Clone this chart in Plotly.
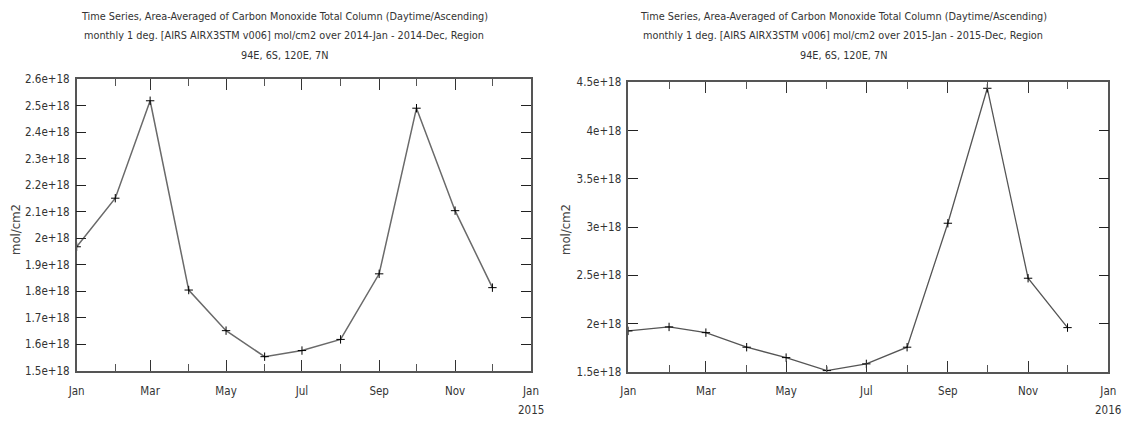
import plotly.graph_objects as go

months_2014 = ["2014-01-01", "2014-02-01", "2014-03-01", "2014-04-01", "2014-05-01", "2014-06-01",
               "2014-07-01", "2014-08-01", "2014-09-01", "2014-10-01", "2014-11-01", "2014-12-01"]
co_2014 = [1.968e18, 2.151e18, 2.518e18, 1.805e18, 1.652e18, 1.554e18,
           1.577e18, 1.619e18, 1.866e18, 2.490e18, 2.104e18, 1.814e18]

months_2015 = ["2015-01-01", "2015-02-01", "2015-03-01", "2015-04-01", "2015-05-01", "2015-06-01",
               "2015-07-01", "2015-08-01", "2015-09-01", "2015-10-01", "2015-11-01", "2015-12-01"]
co_2015 = [1.923e18, 1.964e18, 1.905e18, 1.754e18, 1.646e18, 1.511e18,
           1.581e18, 1.754e18, 3.039e18, 4.438e18, 2.469e18, 1.957e18]

x_ticks_2014 = ["2014-01-01", "2014-03-01", "2014-05-01", "2014-07-01", "2014-09-01", "2014-11-01", "2015-01-01"]
x_ticks_2015 = ["2015-01-01", "2015-03-01", "2015-05-01", "2015-07-01", "2015-09-01", "2015-11-01", "2016-01-01"]
x_text = ["Jan", "Mar", "May", "Jul", "Sep", "Nov", "Jan"]
year_labels = [("2015-01-01", "2015"), ("2016-01-01", "2016")]

y_ticks_left = [1.5e18, 1.6e18, 1.7e18, 1.8e18, 1.9e18, 2.0e18, 2.1e18, 2.2e18, 2.3e18, 2.4e18, 2.5e18, 2.6e18]
y_text_left = ["1.5e+18", "1.6e+18", "1.7e+18", "1.8e+18", "1.9e+18", "2e+18",
               "2.1e+18", "2.2e+18", "2.3e+18", "2.4e+18", "2.5e+18", "2.6e+18"]
y_ticks_right = [1.5e18, 2.0e18, 2.5e18, 3.0e18, 3.5e18, 4.0e18, 4.5e18]
y_text_right = ["1.5e+18", "2e+18", "2.5e+18", "3e+18", "3.5e+18", "4e+18", "4.5e+18"]

title_lines_2014 = ["Time Series, Area-Averaged of Carbon Monoxide Total Column (Daytime/Ascending)",
                    "monthly 1 deg. [AIRS AIRX3STM v006] mol/cm2 over 2014-Jan - 2014-Dec, Region",
                    "94E, 6S, 120E, 7N"]
title_lines_2015 = ["Time Series, Area-Averaged of Carbon Monoxide Total Column (Daytime/Ascending)",
                    "monthly 1 deg. [AIRS AIRX3STM v006] mol/cm2 over 2015-Jan - 2015-Dec, Region",
                    "94E, 6S, 120E, 7N"]
y_label = "mol/cm2"

W, H = 1129, 421
FONT = "DejaVu Sans Condensed, DejaVu Sans, sans-serif"
TXT = "#333333"

fig = go.Figure()
fig.add_trace(go.Scatter(x=months_2014, y=co_2014, mode="lines+markers",
                         line=dict(color="#6a6a6a", width=1.5),
                         marker=dict(symbol="cross-thin", size=6, line=dict(color="black", width=1)),
                         xaxis="x", yaxis="y", showlegend=False))
fig.add_trace(go.Scatter(x=months_2015, y=co_2015, mode="lines+markers",
                         line=dict(color="#555555", width=1.3),
                         marker=dict(symbol="cross-thin", size=6, line=dict(color="black", width=1)),
                         xaxis="x2", yaxis="y2", showlegend=False))

common_x = dict(type="date", showgrid=False, zeroline=False, showline=True, linecolor="#555555",
                linewidth=1.5, mirror="ticks", ticks="inside", ticklen=11, tickcolor="#333333",
                tickwidth=1, automargin=False, ticklabelstandoff=8,
                tickfont=dict(family=FONT, size=11.5, color=TXT),
                minor=dict(dtick="M1", ticks="inside", ticklen=7, tickcolor="#555555", tickwidth=1))
common_y = dict(showgrid=False, zeroline=False, showline=True, linecolor="#555555", linewidth=1.5,
                mirror="ticks", ticks="inside", ticklen=10, tickcolor="#222222", tickwidth=1.2,
                automargin=False, ticklabelstandoff=3,
                tickfont=dict(family=FONT, size=11.5, color=TXT))

annotations = []
for lines, cx in ((title_lines_2014, 284), (title_lines_2015, 843)):
    for i, line in enumerate(lines):
        annotations.append(dict(text=line, x=cx / W, y=1 - (16.5 + 19.5 * i) / H,
                                xref="paper", yref="paper", xanchor="center", yanchor="middle",
                                showarrow=False, font=dict(family=FONT, size=10.8, color=TXT)))
for cx in (15, 565):
    annotations.append(dict(text=y_label, x=cx / W, y=1 - 230 / H, xref="paper", yref="paper",
                            xanchor="center", yanchor="middle", showarrow=False, textangle=-90,
                            font=dict(family=FONT, size=13, color="#444444")))
for (d, yr), xr in zip(year_labels, ("x", "x2")):
    annotations.append(dict(text=yr, x=d, xref=xr, y=1 - 410 / H, yref="paper",
                            xanchor="center", yanchor="middle", showarrow=False,
                            font=dict(family=FONT, size=11.5, color=TXT)))

fig.update_layout(
    width=W, height=H,
    margin=dict(l=0, r=0, t=0, b=0),
    paper_bgcolor="white", plot_bgcolor="white",
    xaxis=dict(common_x, domain=[76.7 / W, 531 / W], anchor="y",
               range=["2014-01-01", "2015-01-01"], tickvals=x_ticks_2014, ticktext=x_text),
    yaxis=dict(common_y, domain=[(H - 371) / H, (H - 79) / H], anchor="x",
               range=[1.5e18, 2.6e18], tickvals=y_ticks_left, ticktext=y_text_left),
    xaxis2=dict(common_x, domain=[628.3 / W, 1108.3 / W], anchor="y2",
                range=["2015-01-01", "2016-01-01"], tickvals=x_ticks_2015, ticktext=x_text),
    yaxis2=dict(common_y, domain=[(H - 371.7) / H, (H - 82.3) / H], anchor="x2",
                range=[1.5e18, 4.5e18], tickvals=y_ticks_right, ticktext=y_text_right),
    annotations=annotations,
)

fig.write_html("out.html", config={"displayModeBar": False},
               post_script="document.body.style.margin='0';document.body.style.overflow='hidden';")
